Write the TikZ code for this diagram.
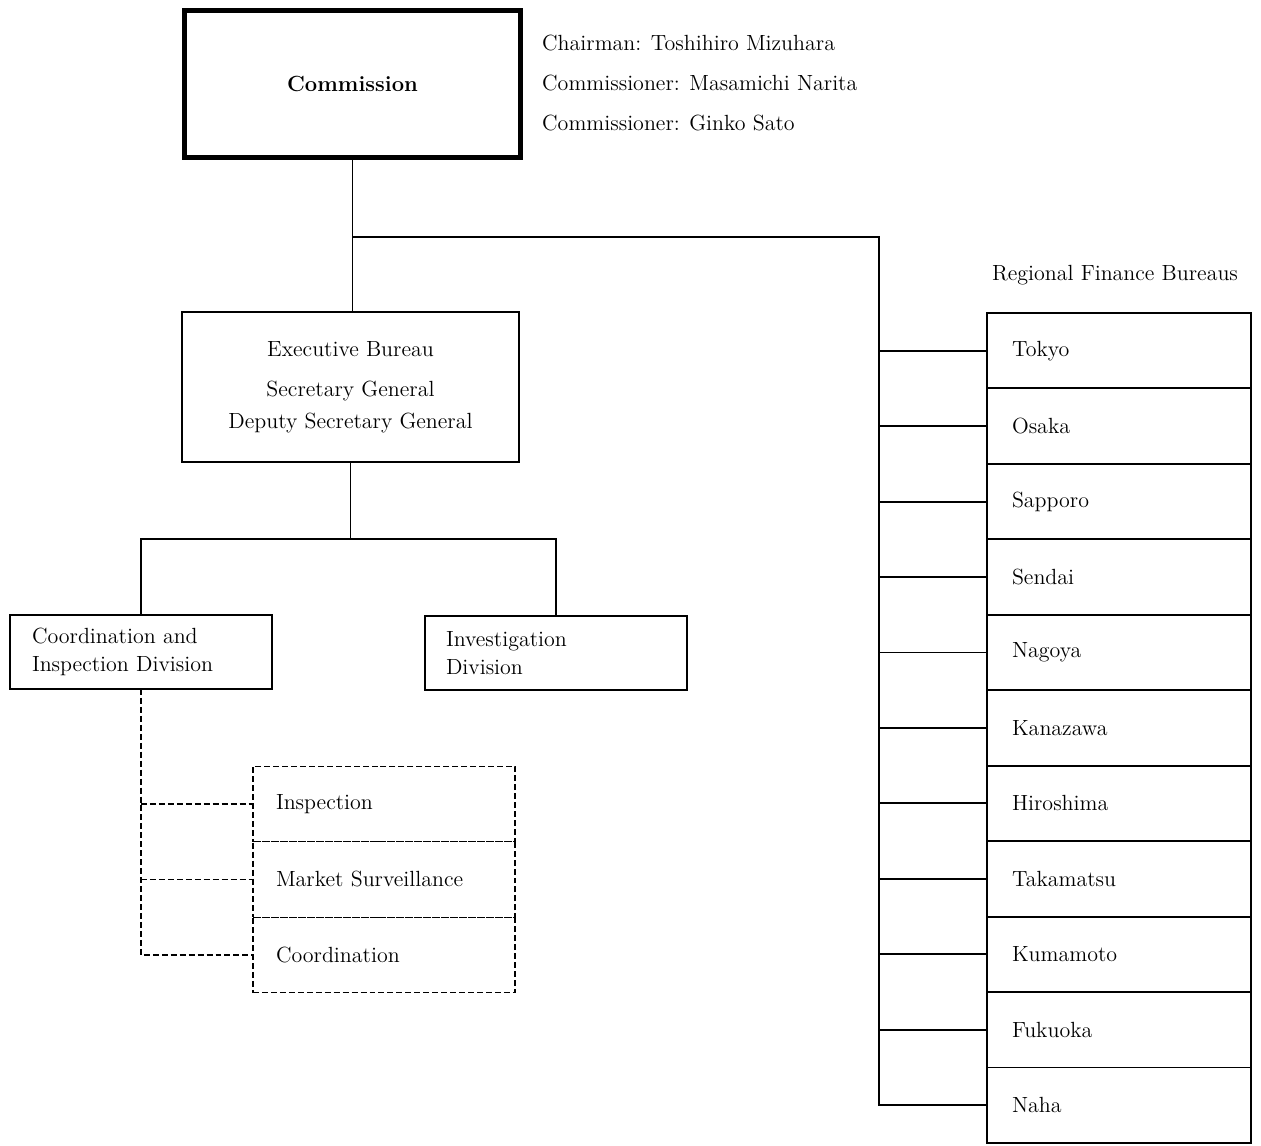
\documentclass[tikz,border=0pt]{standalone}
\usepackage{tikz}
\usetikzlibrary{positioning}

\tikzset{
    box/.style={draw, line width=1.1pt, outer sep=0pt, inner ysep=0pt},
    dashline/.style={line width=0.8pt, dash pattern=on 3.4pt off 1.7pt},
    bureau/.style={box, minimum width=5.28cm, minimum height=1.509cm, inner xsep=0.5cm, text width=4.28cm, align=left},
    section/.style={box, dashline, minimum width=5.24cm, minimum height=1.51cm, inner xsep=0.46cm, text width=4.32cm, align=left},
    division/.style={box, minimum height=1.48cm, inner xsep=0.44cm, text width=4.36cm, align=left, font=\fontsize{12.5}{15.5}\selectfont}
}

\begin{document}
\begin{tikzpicture}[x=0.02cm, y=-0.02cm, font=\fontsize{12.5}{15}\selectfont]
    \useasboundingbox (0,0) rectangle (1261,1146);

    % Draw the commission and its members
    \node[box, line width=2.8pt, minimum width=6.72cm, minimum height=2.94cm] (comm) at (352.5,84) {\bfseries Commission};
    \node[anchor=west, align=left, font=\fontsize{12.5}{22.7}\selectfont] (members) at (536,83)
        {Chairman: Toshihiro Mizuhara\\ Commissioner: Masamichi Narita\\ Commissioner: Ginko Sato};

    % Draw the executive bureau
    \node[box, minimum width=6.74cm, minimum height=3.0cm, align=center, font=\fontsize{12.5}{18}\selectfont] (exec) at (350.5,387)
        {Executive Bureau\\[5pt] Secretary General\\ Deputy Secretary General};

    % Draw the two divisions
    \node[division] (coord) at (141,652) {Coordination and\\ Inspection Division};
    \node[division, text width=4.4cm, inner xsep=0.42cm] (invest) at (556,653) {Investigation\\ Division};

    % Draw the sections of the coordination division
    \node[section] (insp) at (384,804) {Inspection};
    \node[section, below=0pt of insp] (surv) {Market Surveillance};
    \node[section, below=0pt of surv] (cdn) {Coordination};

    % Draw the regional finance bureaus
    \node (rfb) at (1115,275) {Regional Finance Bureaus};
    \foreach \name [count=\i] in {Tokyo, Osaka, Sapporo, Sendai, Nagoya, Kanazawa, Hiroshima, Takamatsu, Kumamoto, Fukuoka, Naha}
        \node[bureau] (b\i) at (1119, {313+75.45*(\i-0.5)}) {\name};

    % Connect commission, executive bureau and bureaus
    \coordinate (jtop) at (352.5,237);
    \coordinate (rtop) at (879,237);
    \draw[line width=1.1pt] (comm.south) -- (comm.south |- exec.north);
    \draw[line width=1.1pt] (jtop) -- (rtop) |- (b11.west);
    \foreach \i in {1,...,10}
        \draw[line width=1.1pt] (rtop |- b\i.west) -- (b\i.west);

    % Connect executive bureau and divisions
    \draw[line width=1.1pt] (exec.south) -- ++(0,77) coordinate (ebus);
    \draw[line width=1.1pt] (coord.north) |- (ebus) -| (invest.north);

    % Dashed connectors to the sections
    \draw[dashline] (coord.south) |- (cdn.west);
    \draw[dashline] (coord.south |- insp.west) -- (insp.west);
    \draw[dashline] (coord.south |- surv.west) -- (surv.west);
\end{tikzpicture}
\end{document}
